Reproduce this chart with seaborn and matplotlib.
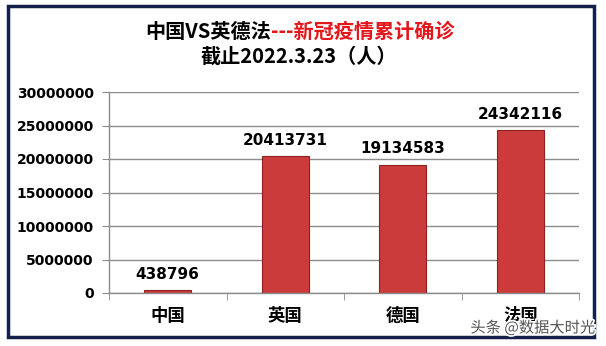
import matplotlib
matplotlib.use("Agg")
import matplotlib.pyplot as plt
import matplotlib.patheffects as pe
from matplotlib.patches import Rectangle
import seaborn as sns
import pandas as pd

categories = ["中国", "英国", "德国", "法国"]
values = [438796, 20413731, 19134583, 24342116]
yticks = [0, 5000000, 10000000, 15000000, 20000000, 25000000, 30000000]
title_black = "中国VS英德法"
title_red = "---新冠疫情累计确诊"
title_line2 = "截止2022.3.23（人）"
watermark = "头条 @数据大时光"

sns.set_style("white")
plt.rcParams['font.family'] = ['Noto Sans CJK SC', 'DejaVu Sans']
plt.rcParams['text.color'] = 'black'
plt.rcParams['xtick.color'] = 'black'
plt.rcParams['ytick.color'] = 'black'

df = pd.DataFrame({"country": categories, "cases": values})

fig = plt.figure(figsize=(6.06, 3.46), dpi=100)
ax = fig.add_axes([109/606, 1-293/346, (579-109)/606, (293-92)/346])

sns.barplot(data=df, x="country", y="cases", ax=ax, color="#cc3b3b",
            width=0.4, edgecolor="#8e2020", linewidth=0.8, saturation=1)

ax.set_ylim(0, 30000000)
ax.set_xlim(-0.5, 3.5)
ax.set_yticks(yticks)
ax.set_yticklabels([str(v) for v in yticks], fontsize=10, fontweight='bold',
                   family='DejaVu Sans', color='black')
ax.yaxis.grid(True, color="#8c8c8c", linewidth=1)
ax.set_axisbelow(True)
ax.set_xlabel("")
ax.set_ylabel("")

for s in ["top", "right"]:
    ax.spines[s].set_visible(False)
for s in ["left", "bottom"]:
    ax.spines[s].set_color("#8c8c8c")
    ax.spines[s].set_linewidth(1)

ax.tick_params(axis='y', which='major', left=True, length=5, color="#8c8c8c", pad=6)
ax.tick_params(axis='x', which='major', length=0, pad=10)
ax.set_xticks([-0.5, 0.5, 1.5, 2.5, 3.5], minor=True)
ax.tick_params(axis='x', which='minor', bottom=True, length=5, color="#8c8c8c")
for lbl in ax.get_xticklabels():
    lbl.set_fontsize(12.5)
    lbl.set_fontweight('bold')
    lbl.set_color('black')

for cont in ax.containers:
    ax.bar_label(cont, labels=[str(v) for v in values], padding=6,
                 fontsize=11, fontweight='bold', family='DejaVu Sans',
                 color='black')

split_x = 271/606
fig.text(split_x, 1-31/346, title_black, ha='right', va='center',
         fontsize=14.5, fontweight='bold', color='black')
fig.text(split_x, 1-31/346, title_red, ha='left', va='center',
         fontsize=14.5, fontweight='bold', color='#e3161c')
fig.text(299/606, 1-56/346, title_line2, ha='center', va='center',
         fontsize=14.5, fontweight='bold', color='black')

fig.patches.append(Rectangle((8/606, 1-337/346), (594-8)/606, (337-6)/346,
                             transform=fig.transFigure, fill=False,
                             edgecolor="#13214a", linewidth=2.5))

fig.text(595/606, 1-328/346, watermark, ha='right', va='center',
         fontsize=11, color='#555555',
         path_effects=[pe.withStroke(linewidth=2.5, foreground='white')])

fig.savefig("out.png", dpi=100)
